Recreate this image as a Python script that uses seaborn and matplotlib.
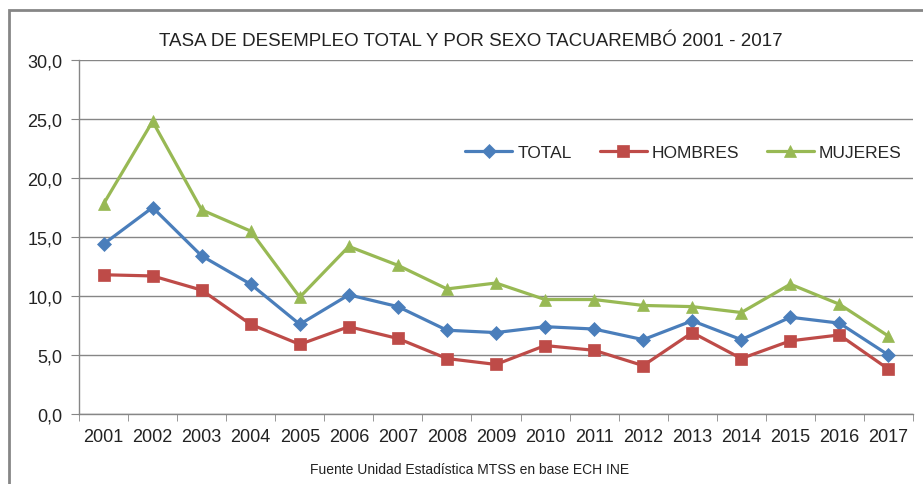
import pandas as pd
import matplotlib
matplotlib.use("Agg")
import matplotlib.pyplot as plt
import seaborn as sns
from matplotlib.ticker import FuncFormatter, MultipleLocator
from matplotlib.patches import Rectangle

# DATOS
anios = list(range(2001, 2018))
total = [14.4, 17.5, 13.4, 11.0, 7.6, 10.1, 9.1, 7.1, 6.9, 7.4, 7.2, 6.3, 7.9, 6.3, 8.2, 7.7, 5.0]
hombres = [11.8, 11.7, 10.5, 7.6, 5.9, 7.4, 6.4, 4.7, 4.2, 5.8, 5.4, 4.1, 6.9, 4.7, 6.2, 6.7, 3.8]
mujeres = [17.8, 24.8, 17.3, 15.5, 9.9, 14.2, 12.6, 10.6, 11.1, 9.7, 9.7, 9.2, 9.1, 8.6, 11.0, 9.3, 6.6]
series = ["TOTAL", "HOMBRES", "MUJERES"]

datos = pd.DataFrame({
    "anio": anios * 3,
    "tasa": total + hombres + mujeres,
    "serie": [s for s in series for _ in anios],
})

sns.set_style("white")
plt.rcParams["font.family"] = ["Liberation Sans", "DejaVu Sans"]

colores = {"TOTAL": "#4A7EBB", "HOMBRES": "#BE4B48", "MUJERES": "#98B954"}
marcas = {"TOTAL": "D", "HOMBRES": "s", "MUJERES": "^"}
gris = "#868686"

fig = plt.figure(figsize=(9.23, 4.85), dpi=100)
ax = fig.add_axes([79 / 923, 70 / 485, 834 / 923, 354 / 485])

sns.lineplot(
    data=datos, x="anio", y="tasa", hue="serie", style="serie",
    palette=colores, markers=marcas, dashes=False, linewidth=2.3,
    markersize=9, markeredgewidth=0.5, ax=ax
)
for ln in ax.lines:
    ln.set_markeredgecolor(ln.get_color())
    if ln.get_marker() == "D":
        ln.set_markersize(7.5)

# EJES
ax.set_xlim(2000.5, 2017.5)
ax.set_ylim(0, 30)
ax.xaxis.set_minor_locator(MultipleLocator(1, offset=0.5))
ax.yaxis.set_major_locator(MultipleLocator(5))
ax.yaxis.set_major_formatter(FuncFormatter(lambda v, p: f"{v:.1f}".replace(".", ",")))
ax.set_xticks(anios)
ax.set_xticklabels([str(a) for a in anios])
ax.tick_params(axis="x", which="major", length=0, pad=10, labelsize=13, labelcolor="#222222")
ax.tick_params(axis="x", which="minor", length=5, color=gris, direction="out", bottom=True)
ax.tick_params(axis="y", length=6, color=gris, direction="out", pad=6, labelsize=13,
               labelcolor="#222222", left=True)

ax.grid(axis="y", color=gris, linewidth=1)
ax.grid(axis="x", visible=False)
for lado in ["top", "right"]:
    ax.spines[lado].set_visible(False)
for lado in ["left", "bottom"]:
    ax.spines[lado].set_color(gris)
    ax.spines[lado].set_linewidth(1)

ax.set_xlabel("")
ax.set_ylabel("")

# LEYENDA
ax.legend(
    loc="center", bbox_to_anchor=(0.725, 0.74), ncol=3, frameon=False,
    fontsize=12.5, handlelength=2.7, columnspacing=1.6, handletextpad=0.3
)

# TITULO Y FUENTE
fig.text(471 / 923, 1 - 42 / 485, "TASA DE DESEMPLEO TOTAL Y POR SEXO TACUAREMBÓ 2001 - 2017",
         ha="center", va="center", fontsize=13.5, color="#222222")
fig.text(470 / 923, 1 - 470 / 485, "Fuente Unidad Estadística MTSS en base ECH INE",
         ha="center", va="center", fontsize=10, color="#222222")

# MARCO
fig.patches.append(Rectangle((9 / 923, -0.2), 1.2, 1.2 - 10.5 / 485,
                             transform=fig.transFigure, fill=False,
                             edgecolor=gris, linewidth=2))

fig.savefig("out.png", dpi=100)
